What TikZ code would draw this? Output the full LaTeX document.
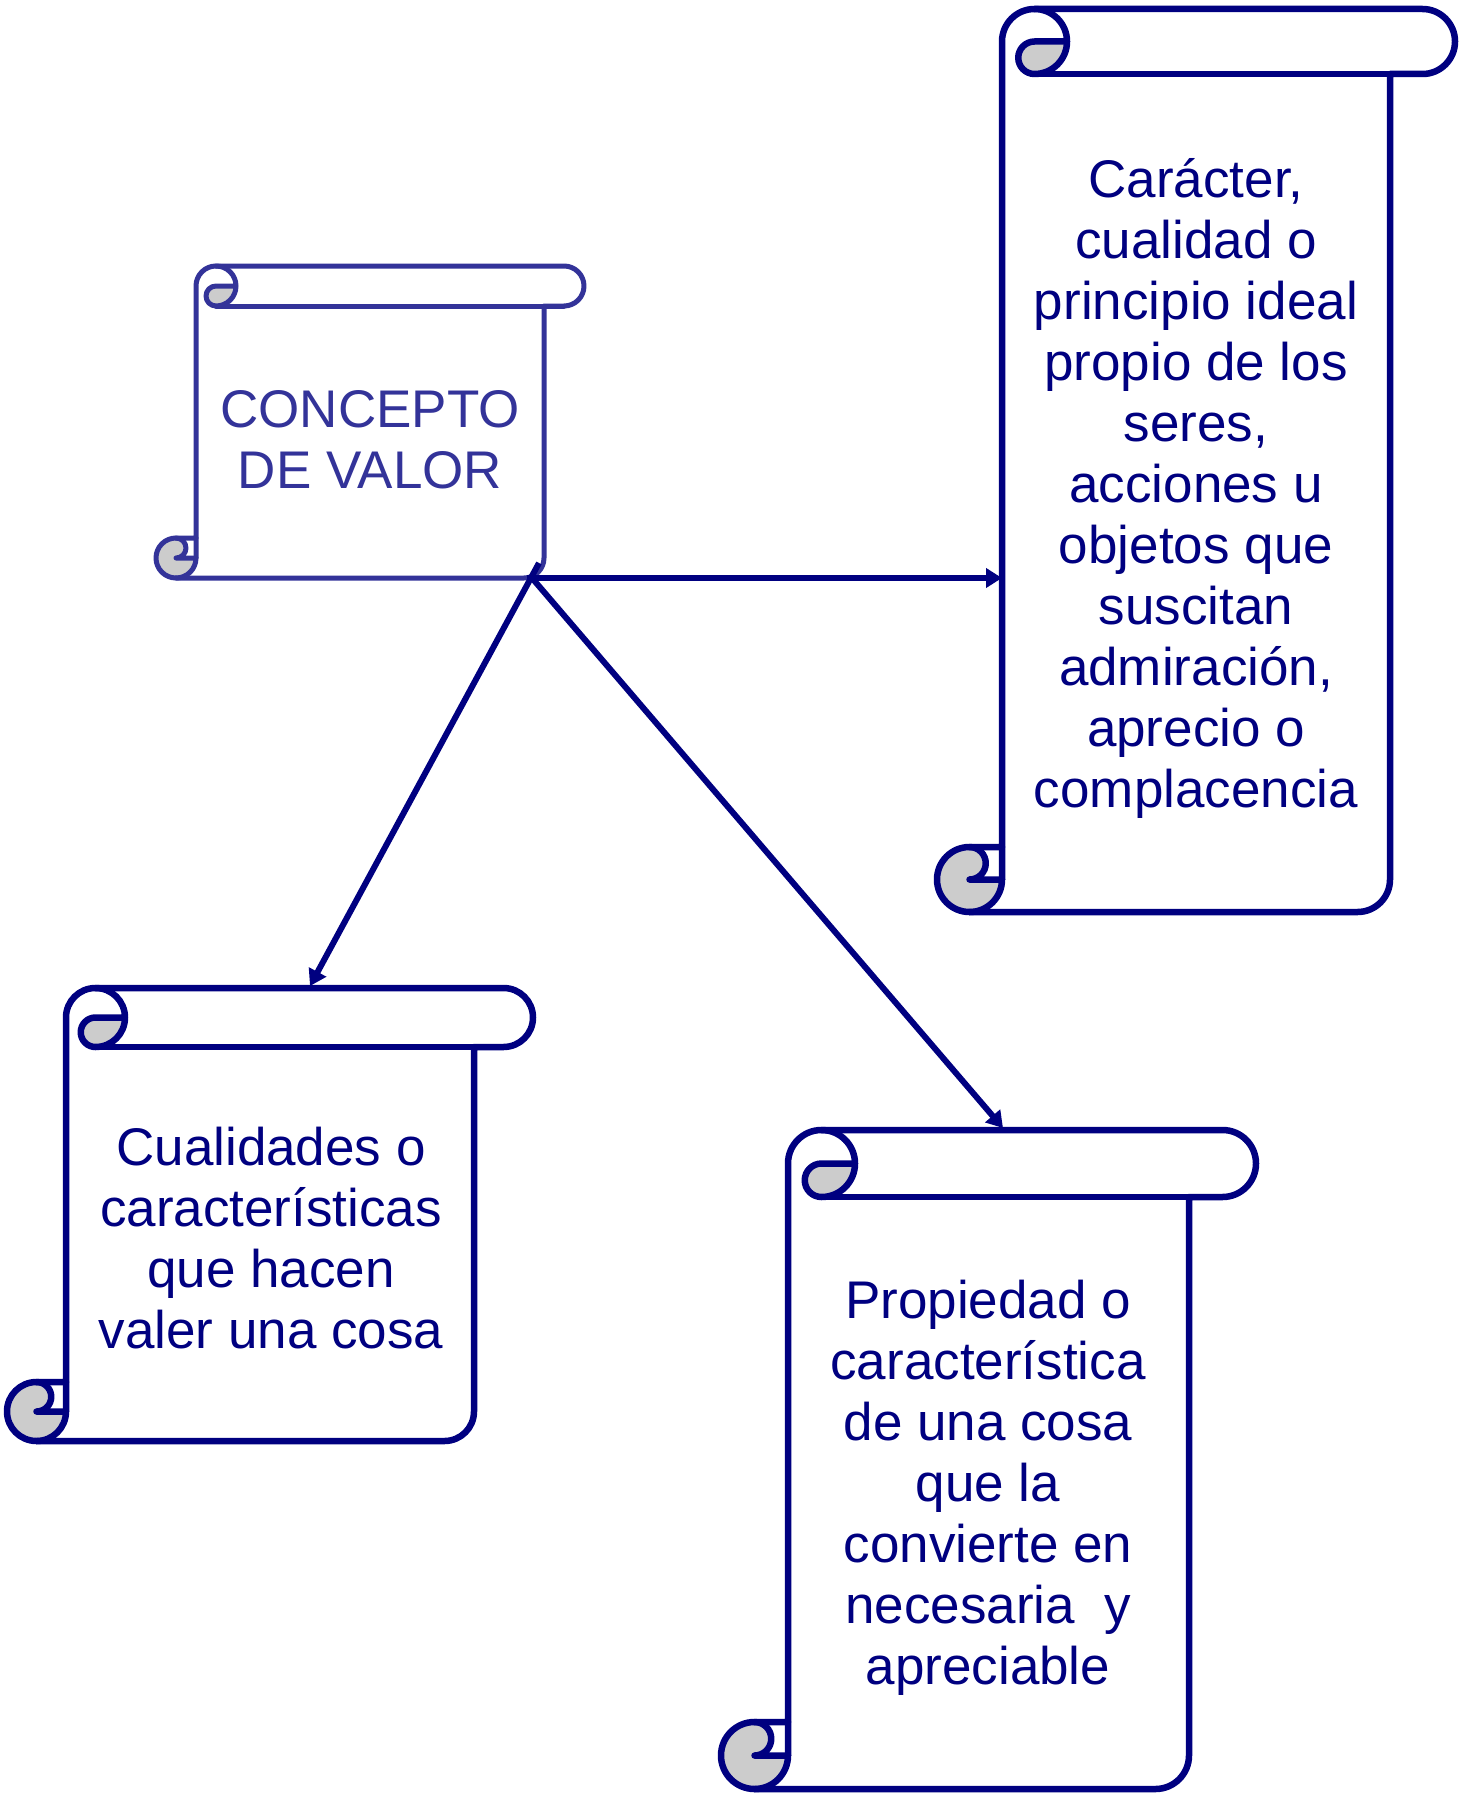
\documentclass[tikz,border=0pt]{standalone}
\usepackage{fontspec}
\setmainfont{Liberation Sans}
\usetikzlibrary{arrows.meta}
\definecolor{navy}{HTML}{000080}
\definecolor{slate}{HTML}{333399}
\definecolor{curlgray}{HTML}{CCCCCC}
\tikzset{
  txt/.style={font=\fontsize{53}{61}\selectfont, align=center, inner sep=0pt, text=navy},
  link/.style={draw=navy, line width=6pt, -{Triangle[length=16pt,width=19pt]}}
}
% #1 L, #2 T, #3 R, #4 B, #5 ch, #6 colour, #7 line width
\newcommand\drawscroll[7]{%
  \pgfmathsetmacro\scL{#1}\pgfmathsetmacro\scT{#2}%
  \pgfmathsetmacro\scR{#3}\pgfmathsetmacro\scB{#4}%
  \pgfmathsetmacro\scC{#5}\pgfmathsetmacro\scH{#5/2}\pgfmathsetmacro\scQ{#5/4}%
  \def\scOutline{(\scL+\scC,\scB-\scC) -- (\scL+\scC,\scT+\scH)
    arc[start angle=180,delta angle=90,radius=\scH] -- (\scR-\scH,\scT)
    arc[start angle=270,delta angle=180,radius=\scH] -- (\scR-\scC,\scT+\scC)
    -- (\scR-\scC,\scB-\scH) arc[start angle=0,delta angle=90,radius=\scH]
    -- (\scL+\scH,\scB) arc[start angle=90,delta angle=180,radius=\scH] -- cycle}%
  \begin{scope}[draw=#6, line width=#7, line join=round, line cap=round]
    \fill[white] \scOutline;
    \fill[curlgray] (\scL+\scC+\scH,\scT+\scH) -- (\scL+2*\scC,\scT+\scH)
      arc[start angle=0,delta angle=90,radius=\scH]
      arc[start angle=90,delta angle=180,radius=\scQ] -- cycle;
    \fill[curlgray] (\scL+\scH,\scB-\scC)
      arc[start angle=270,delta angle=180,radius=\scQ] -- (\scL+\scC,\scB-\scH)
      arc[start angle=0,delta angle=270,radius=\scH] -- cycle;
    \draw \scOutline;
    \draw (\scL+\scC+\scH,\scT) arc[start angle=270,delta angle=180,radius=\scH]
      arc[start angle=90,delta angle=180,radius=\scQ] -- (\scL+2*\scC,\scT+\scH);
    \draw (\scL+\scC+\scH,\scT+\scC) -- (\scR-\scH,\scT+\scC);
    \draw (\scL+\scH,\scB-\scC) arc[start angle=270,delta angle=180,radius=\scQ]
      -- (\scL+\scC,\scB-\scH);
    \draw (\scL+\scC,\scB-\scC) -- (\scL+\scC,\scB-\scH)
      arc[start angle=0,delta angle=90,radius=\scH];
  \end{scope}}
\begin{document}
\begin{tikzpicture}[x=1pt, y=-1pt]
  \useasboundingbox (0,0) rectangle (1462,1798);
  \drawscroll{156}{266}{584}{578}{40}{slate}{5pt}
  \drawscroll{937}{9}{1455}{912}{65}{navy}{6.5pt}
  \drawscroll{7}{988}{533}{1441}{59}{navy}{6.5pt}
  \drawscroll{721}{1130}{1256}{1789}{67}{navy}{6.5pt}

  \node[txt, text=slate] (tA) at (370,440) {CONCEPTO\\DE VALOR};
  \node[txt] (tB) at (1196,488) {Carácter,\\cualidad o\\principio ideal\\propio de los\\seres,\\acciones u\\objetos que\\suscitan\\admiración,\\aprecio o\\complacencia};
  \node[txt] (tC) at (271,1238) {Cualidades o\\características\\que hacen\\valer una cosa};
  \node[txt] (tD) at (988,1488) {Propiedad o\\característica\\de una cosa\\que la\\convierte en\\necesaria\ \ y\\apreciable};

  \coordinate (J) at (532,578);
  \coordinate (J1) at (527,578);
  \coordinate (J2) at (539,563);
  \coordinate (aB) at (1002,578);
  \coordinate (aC) at (310,986);
  \coordinate (aD) at (1003,1128);
  \draw[link] (J1) -- (aB);
  \draw[link] (J2) -- (aC);
  \draw[link] (J) -- (aD);
\end{tikzpicture}
\end{document}
